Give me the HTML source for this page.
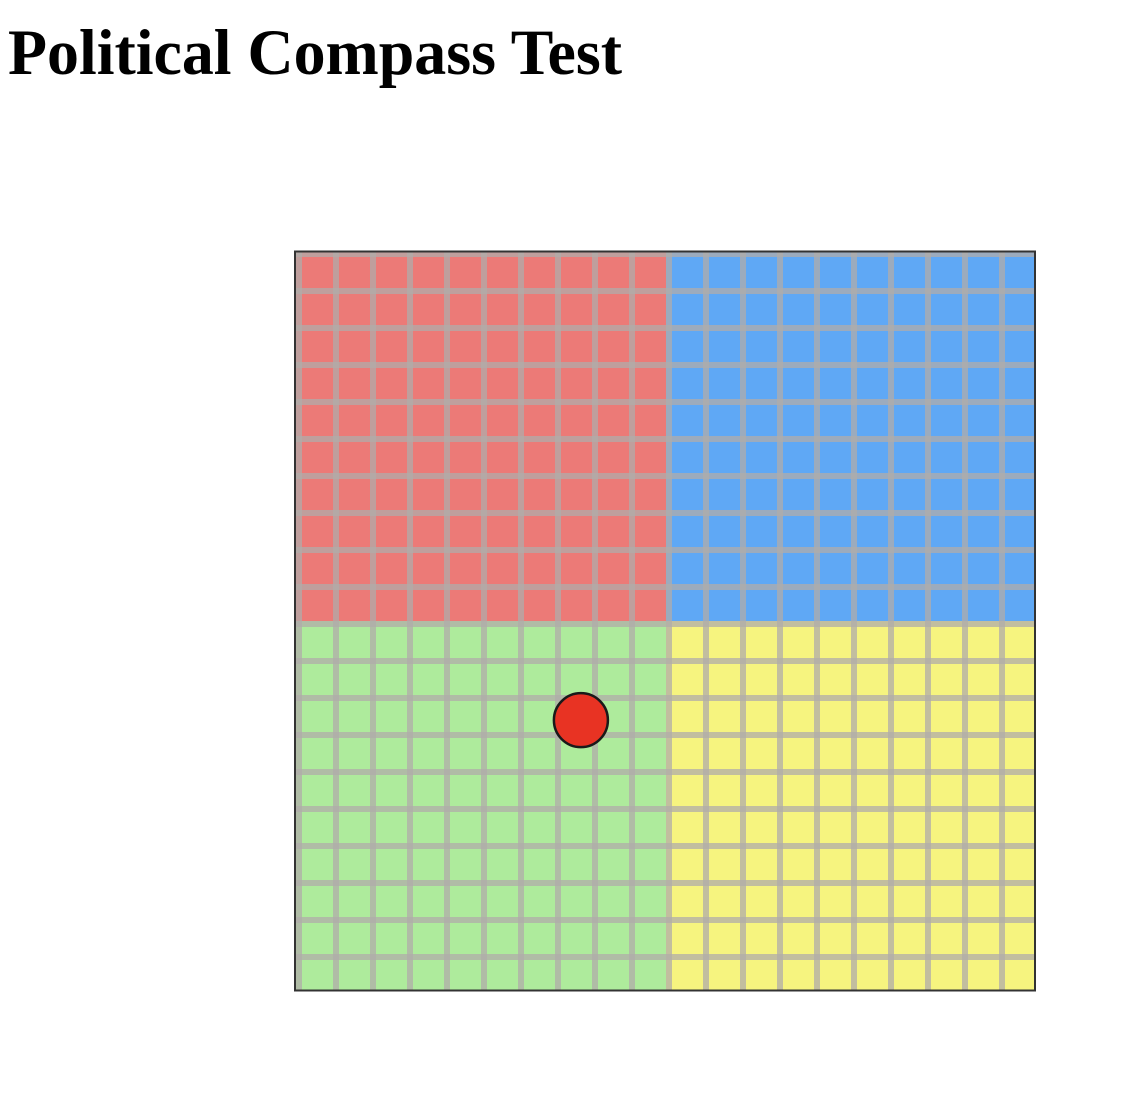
<!DOCTYPE html>
<html><head><meta charset="utf-8"><style>
html,body{margin:0;padding:0;background:#fff;width:1148px;height:1096px;overflow:hidden}
#title{position:absolute;left:8px;top:0;margin:0;font-family:"Liberation Serif",serif;font-weight:bold;font-size:65px;line-height:1;white-space:nowrap;transform-origin:0 0;color:#000}
#chart{position:absolute;left:0;top:0}
</style></head><body>
<h1 id="title">Political Compass Test</h1>
<svg id="chart" width="1148" height="1096"></svg>
<script>
// data
const economicScore = [-2.3];
const socialScore = [-2.68];
const quadrantNames = ["authoritarian-left","authoritarian-right","libertarian-left","libertarian-right"];
const quadrantColors = ["#ec7a77","#5fa8f5","#aeeb9c","#f6f47f"];
const gridRange = [-10, 10];

// title fit
const t = document.getElementById('title');
const w = t.getBoundingClientRect().width;
t.style.transform = 'scaleX(' + (614 / w) + ')';
t.style.top = (79 - 65*0.89) + 'px';

const NS = 'http://www.w3.org/2000/svg';
const svg = document.getElementById('chart');
const X0 = 296, Y0 = 251, SIZE = 740, CELL = SIZE/20, LINE = 6;
const xs = v => X0 + (v - gridRange[0]) / (gridRange[1]-gridRange[0]) * SIZE;
const ys = v => Y0 + (gridRange[1] - v) / (gridRange[1]-gridRange[0]) * SIZE;
function mk(tag, attrs){const e=document.createElementNS(NS,tag);for(const k in attrs)e.setAttribute(k,attrs[k]);svg.appendChild(e);return e;}

// quadrants
const quads = [[gridRange[0],gridRange[1]],[0,gridRange[1]],[gridRange[0],0],[0,0]];
quads.forEach((q,i)=>{
  const r = mk('rect',{x:xs(q[0]),y:ys(q[1]),width:SIZE/2,height:SIZE/2,fill:quadrantColors[i]});
  
  
});
// grid lines
for(let k=0;k<20;k++){
  const v = mk('rect',{x:X0+k*CELL,y:Y0,width:LINE,height:SIZE,fill:'#b0acaa','fill-opacity':0.75});
  
  
  const h = mk('rect',{x:X0,y:Y0+k*CELL,width:SIZE,height:LINE,fill:'#b0acaa','fill-opacity':0.75});
  
  
}
// border
const b = mk('rect',{x:295,y:251.5,width:740,height:739,fill:'none',stroke:'#333',"stroke-width":2});


// point
economicScore.forEach((e,i)=>{
  const c = mk('circle',{cx:xs(e),cy:ys(socialScore[i]),r:27,fill:'#e83323',stroke:'#1a1a1a',"stroke-width":2.5});
  
  
});
</script>
</body></html>
